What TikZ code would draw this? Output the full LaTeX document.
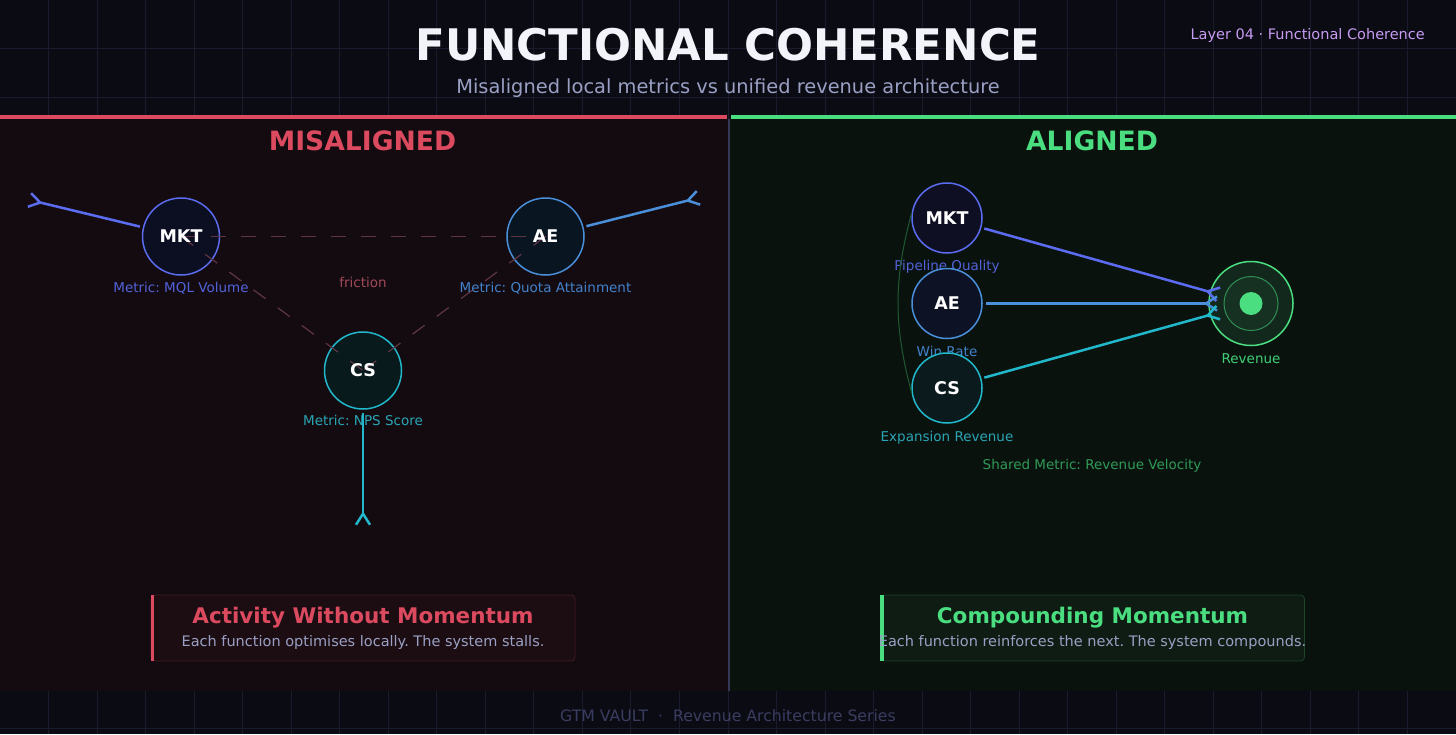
\documentclass[tikz,border=0pt]{standalone}
\usepackage{fontspec}
\setmainfont{DejaVu Sans}
\usepackage{xcolor}
\usepackage{tikz}
\usetikzlibrary{arrows.meta, positioning, calc}
\frenchspacing

\definecolor{pagebg}{HTML}{0B0B13}
\definecolor{gridc}{HTML}{1A1B2D}
\definecolor{badbg}{HTML}{140B10}
\definecolor{goodbg}{HTML}{0A120E}
\definecolor{badred}{HTML}{DB4A5F}
\definecolor{goodgreen}{HTML}{4ADE80}
\definecolor{mktc}{HTML}{5B6CF0}
\definecolor{aec}{HTML}{4A8FDA}
\definecolor{csc}{HTML}{22B8CC}
\definecolor{mkttext}{HTML}{5262DA}
\definecolor{aetext}{HTML}{4282CA}
\definecolor{cstext}{HTML}{2AA5B5}
\definecolor{mktfill}{HTML}{0C0F22}
\definecolor{aefill}{HTML}{0A1522}
\definecolor{csfill}{HTML}{081A1C}
\definecolor{mktfilltwo}{HTML}{0F0F24}
\definecolor{aefilltwo}{HTML}{0D1224}
\definecolor{csfilltwo}{HTML}{0A1A1D}
\definecolor{rubc}{HTML}{5E3542}
\definecolor{rubtext}{HTML}{A04A5A}
\definecolor{titlec}{HTML}{F2F4FA}
\definecolor{mutedtext}{HTML}{9AA0C4}
\definecolor{layerc}{HTML}{C79BF2}
\definecolor{footc}{HTML}{3A3D60}
\definecolor{dividerc}{HTML}{343957}
\definecolor{sharedc}{HTML}{2F9A57}
\definecolor{loopc}{HTML}{1E5A30}
\definecolor{revfill}{HTML}{13281C}
\definecolor{revringfill}{HTML}{163022}
\definecolor{revring}{HTML}{2F8F55}
\definecolor{revtext}{HTML}{3FCF75}
\definecolor{badboxfill}{HTML}{1C0D13}
\definecolor{badboxline}{HTML}{431A25}
\definecolor{goodboxfill}{HTML}{0F1C14}
\definecolor{goodboxline}{HTML}{1D4329}

\begin{document}
\begin{tikzpicture}[
    x=1pt, y=-1pt,
    actor/.style={circle, inner sep=0pt, line width=1.5pt, text=white,
        font=\bfseries\fontsize{17.5}{17.5}\selectfont},
    tag/.style={inner sep=0pt, text=white, font=\bfseries\fontsize{17.5}{17.5}\selectfont},
    metric/.style={inner sep=0pt, text height=9.8pt, text depth=2.8pt,
        font=\fontsize{13.5}{13.5}\selectfont},
    heading/.style={anchor=base, inner sep=0pt, font=\bfseries\fontsize{26.6}{26.6}\selectfont},
    push/.style={line width=2.5pt, shorten <=3pt, shorten >=-10pt,
        -{Straight Barb[reversed, length=11pt, width=14pt]}},
    rub/.style={draw=rubc, line width=1.2pt, dash pattern=on 15pt off 15pt},
    panelbox/.style={rectangle, rounded corners=4pt, minimum width=424pt,
        minimum height=66pt, line width=0.8pt},
    boxtitle/.style={anchor=base, inner sep=0pt, font=\bfseries\fontsize{21.5}{21.5}\selectfont},
    boxnote/.style={anchor=base, inner sep=0pt, text=mutedtext, font=\fontsize{14.5}{14.5}\selectfont}
]

% Page and grid
\useasboundingbox (0,0) rectangle (1456,734);
\fill[pagebg] (0,0) rectangle (1456,734);
\foreach \i in {1,...,29}
    \draw[gridc, line width=0.8pt] (\i*48.53,0) -- (\i*48.53,734);
\foreach \j in {1,...,15}
    \draw[gridc, line width=0.8pt] (0,\j*48.53) -- (1456,\j*48.53);

% Header
\node[anchor=base, inner sep=0pt, text=titlec, font=\bfseries\fontsize{43.5}{43.5}\selectfont] (title) at (728,60) {FUNCTIONAL COHERENCE};
\node[anchor=base, inner sep=0pt, text=mutedtext, font=\fontsize{19.4}{19.4}\selectfont] (subtitle) at (728,93) {Misaligned local metrics vs unified revenue architecture};
\node[anchor=base east, inner sep=0pt, text=layerc, font=\fontsize{14.5}{14.5}\selectfont] (layer) at (1425,39) {Layer 04 · Functional Coherence};

% Panels
\fill[badbg] (0,119) rectangle (728,691);
\fill[goodbg] (729.5,119) rectangle (1456,691);
\fill[badred] (0,115) rectangle (727,119);
\fill[goodgreen] (730.5,115) rectangle (1456,119);
\draw[dividerc, line width=1.5pt] (728.75,119) -- (728.75,691);

\node[heading, text=badred] (badhead) at (362.5,150) {MISALIGNED};
\node[heading, text=goodgreen] (goodhead) at (1092,150) {ALIGNED};

% Left panel: misaligned functions
\node[actor, draw=mktc, fill=mktfill, minimum size=77pt] (mkt) at (181,236.5) {};
\node[actor, draw=aec, fill=aefill, minimum size=77pt] (ae) at (545.5,236.5) {};
\node[actor, draw=csc, fill=csfill, minimum size=77pt] (cs) at (363,370.5) {};

% Friction
\draw[rub] (mkt.center) -- (ae.center);
\draw[rub] (mkt.center) -- (cs.center);
\draw[rub] (ae.center) -- (cs.center);
\node[tag] (mkttag) at (mkt) {MKT};
\node[tag] (aetag) at (ae) {AE};
\node[tag] (cstag) at (cs) {CS};
\node[anchor=base, inner sep=0pt, text=rubtext, font=\fontsize{13.5}{13.5}\selectfont] (friction) at (363,287) {friction};

\node[metric, text=mkttext, below=7pt of mkt] (mktmetric) {Metric: MQL Volume};
\node[metric, text=aetext, below=7pt of ae] (aemetric) {Metric: Quota Attainment};
\node[metric, text=cstext, below=6pt of cs] (csmetric) {Metric: NPS Score};

% Arrows pulling apart
\coordinate (mktend) at (38,202);
\coordinate (aeend) at (690,200);
\coordinate (csend) at (363,516);
\draw[push, mktc] (mkt) -- (mktend);
\draw[push, aec] (ae) -- (aeend);
\draw[push, csc] (cs) -- (csend);

% Left summary
\node[panelbox, fill=badboxfill, draw=badboxline] (badbox) at (363,628) {};
\fill[badred] (badbox.north west) rectangle ([xshift=3pt]badbox.south west);
\node[boxtitle, text=badred] (badtitle) at ($(badbox.north)+(0,29)$) {Activity Without Momentum};
\node[boxnote] (badnote) at ($(badbox.north)+(0,52)$) {Each function optimises locally. The system stalls.};

% Right panel: aligned functions
\node[actor, draw=mktc, fill=mktfilltwo, minimum size=70pt] (mkt2) at (947,218) {MKT};
\node[metric, text=mkttext, below=7pt of mkt2] (mkt2metric) {Pipeline Quality};
\node[actor, draw=aec, fill=aefilltwo, minimum size=70pt] (ae2) at (947,303.5) {AE};
\node[metric, text=aetext, below=7pt of ae2] (ae2metric) {Win Rate};
\node[actor, draw=csc, fill=csfilltwo, minimum size=70pt] (cs2) at (947,388) {CS};
\node[metric, text=cstext, below=8pt of cs2] (cs2metric) {Expansion Revenue};

\draw[loopc, line width=1pt] (mkt2.172) to[bend right=15] (cs2.187);

% Revenue target
\node[circle, inner sep=0pt, minimum size=84pt, fill=revfill, draw=goodgreen, line width=1.5pt] (rev) at (1251,303.5) {};
\node[circle, inner sep=0pt, minimum size=54pt, fill=revringfill, draw=revring, line width=1pt] (revring) at (rev) {};
\node[circle, inner sep=0pt, minimum size=23pt, fill=goodgreen] (revdot) at (rev) {};
\node[metric, text=revtext, below=7pt of rev] (revlabel) {Revenue};

% Arrows into revenue
\draw[push, mktc] (mkt2) -- (rev);
\draw[push, aec] (ae2) -- (rev);
\draw[push, csc] (cs2) -- (rev);

\node[anchor=base, inner sep=0pt, text=sharedc, font=\fontsize{13.5}{13.5}\selectfont] (shared) at (1092,469) {Shared Metric: Revenue Velocity};

% Right summary
\node[panelbox, fill=goodboxfill, draw=goodboxline] (goodbox) at (1092.5,628) {};
\fill[goodgreen] (goodbox.north west) rectangle ([xshift=3.5pt]goodbox.south west);
\node[boxtitle, text=goodgreen] (goodtitle) at ($(goodbox.north)+(0,29)$) {Compounding Momentum};
\node[boxnote] (goodnote) at ($(goodbox.north)+(0,52)$) {Each function reinforces the next. The system compounds.};

% Footer
\node[anchor=base, inner sep=0pt, text=footc, font=\fontsize{15.7}{15.7}\selectfont] (footer) at (728,721) {GTM VAULT~~·~~Revenue Architecture Series};

\end{tikzpicture}
\end{document}
